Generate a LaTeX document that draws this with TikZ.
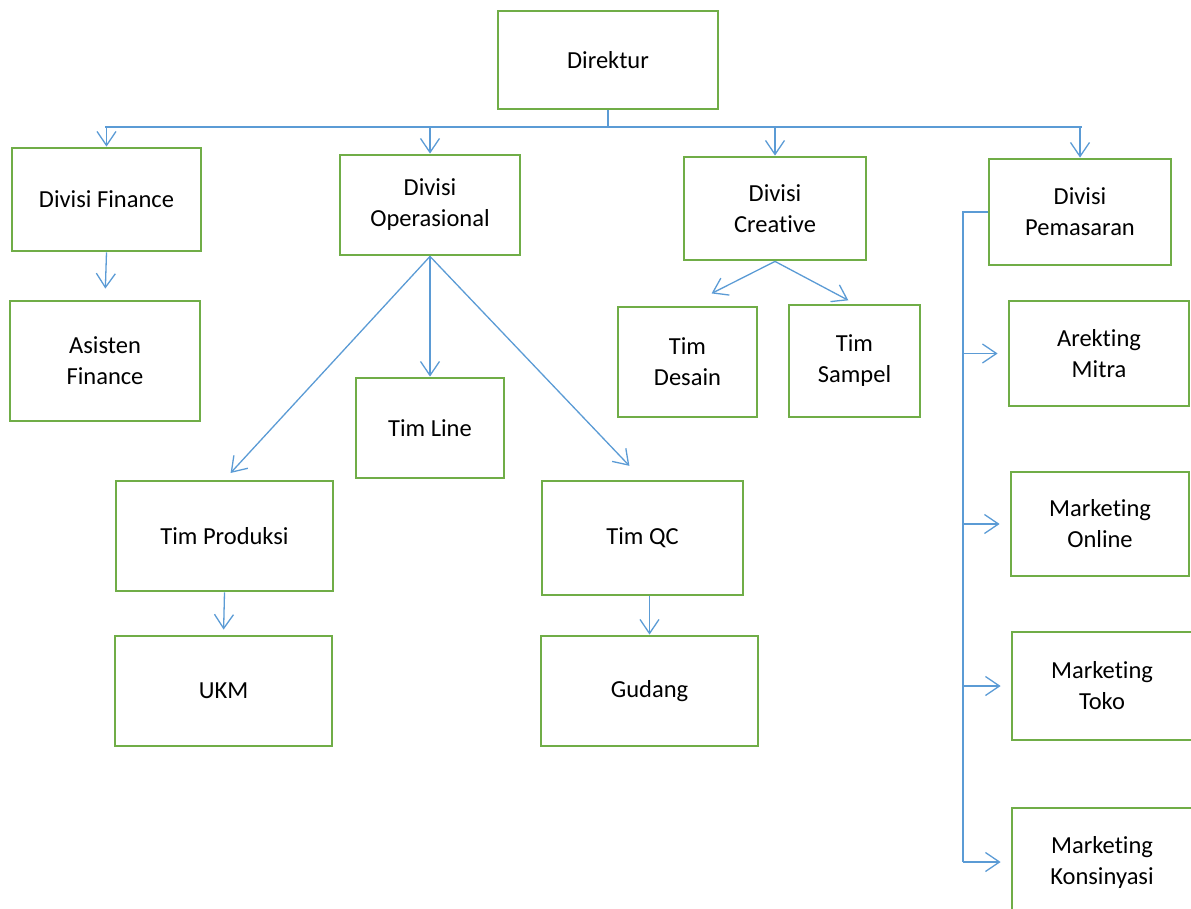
\documentclass[tikz,border=0pt]{standalone}
\usepackage{fontspec}
\setmainfont{Carlito}[Ligatures=NoCommon]
\usetikzlibrary{arrows.meta}
\definecolor{boxgreen}{HTML}{70AD47}
\definecolor{linkblue}{HTML}{5B9BD5}

\begin{document}
\begin{tikzpicture}
  [
  x=1pt, y=-1pt,
  font=\fontsize{24.5}{31}\selectfont,
  unit/.style={rectangle, draw=boxgreen, line width=2.8pt, inner sep=0pt, align=center},
  link/.style={draw=linkblue, line width=1.3pt},
  >={Straight Barb[length=14pt,width=19pt]}
  ]
\useasboundingbox (0,0) rectangle (1191,909);

% top level
\node[unit, minimum width=220pt, minimum height=98pt] (dir) at (608,60) {Direktur};

% divisions
\node[unit, minimum width=189pt, minimum height=103pt] (fin) at (106.5,199.5) {Divisi Finance};
\node[unit, minimum width=180pt, minimum height=100pt] (ops) at (430,205) {Divisi\\Operasional};
\node[unit, minimum width=182pt, minimum height=103pt] (cre) at (775,208.5) {Divisi\\Creative};
\node[unit, minimum width=182pt, minimum height=106pt] (pem) at (1080,212) {Divisi\\Pemasaran};

% teams
\node[unit, minimum width=190pt, minimum height=120pt] (asis) at (105,361) {Asisten\\Finance};
\node[unit, minimum width=148pt, minimum height=100pt] (line) at (430,428) {Tim Line};
\node[unit, minimum width=217pt, minimum height=110pt] (prod) at (224.5,536) {Tim Produksi};
\node[unit, minimum width=201pt, minimum height=114pt] (qc) at (642.5,538) {Tim QC};
\node[unit, minimum width=217pt, minimum height=110pt] (ukm) at (223.5,691) {UKM};
\node[unit, minimum width=217pt, minimum height=110pt] (gudang) at (649.5,691) {Gudang};
\node[unit, minimum width=139pt, minimum height=110pt] (desain) at (687.5,362) {Tim\\Desain};
\node[unit, minimum width=131pt, minimum height=112pt] (sampel) at (854.5,361) {Tim\\Sampel};

% marketing column
\node[unit, minimum width=180pt, minimum height=105pt] (mitra) at (1099,353.5) {Arekting\\Mitra};
\node[unit, minimum width=178pt, minimum height=104pt] (online) at (1100,524) {Marketing\\Online};
\node[unit, minimum width=180pt, minimum height=108pt] (toko) at (1102,686) {Marketing\\Toko};
\node[unit, minimum width=180pt, minimum height=108pt] (kons) at (1102,862) {Marketing\\Konsinyasi};

% bus under Direktur
\coordinate (busL) at (105,127);
\coordinate (busR) at (1082,127);
\draw[link] (dir.south) -- (dir.south |- busL);
\draw[link] (busL) -- (busR);
\foreach \d in {fin,ops,cre,pem} {
  \draw[link,->] (\d.north |- busL) -- (\d.north);
}

% Finance and Operasional
\draw[link,->,shorten >=11pt] (fin.south) -- (asis.north);
\draw[link,->,shorten >=9pt] (ops.south) -- (prod.north);
\draw[link,->] (ops.south) -- (line.north);
\draw[link,->,shorten >=19pt] (ops.south) -- (qc.north);
\draw[link,->,shorten >=5pt] (prod.south) -- (ukm.north);
\draw[link,->] (qc.south -| gudang.north) -- (gudang.north);

% Creative
\draw[link,->,shorten >=27pt] (cre.south) -- (desain.north);
\draw[link,->,shorten >=7pt] (cre.south) -- (sampel.north);

% Pemasaran
\coordinate (trunk) at (963,212);
\draw[link] (pem.west |- trunk) -- (trunk) -- (trunk |- kons.west);
\foreach \m in {mitra,online,toko,kons} {
  \draw[link,->,shorten >=10pt] (trunk |- \m.west) -- (\m.west);
}

\end{tikzpicture}
\end{document}
